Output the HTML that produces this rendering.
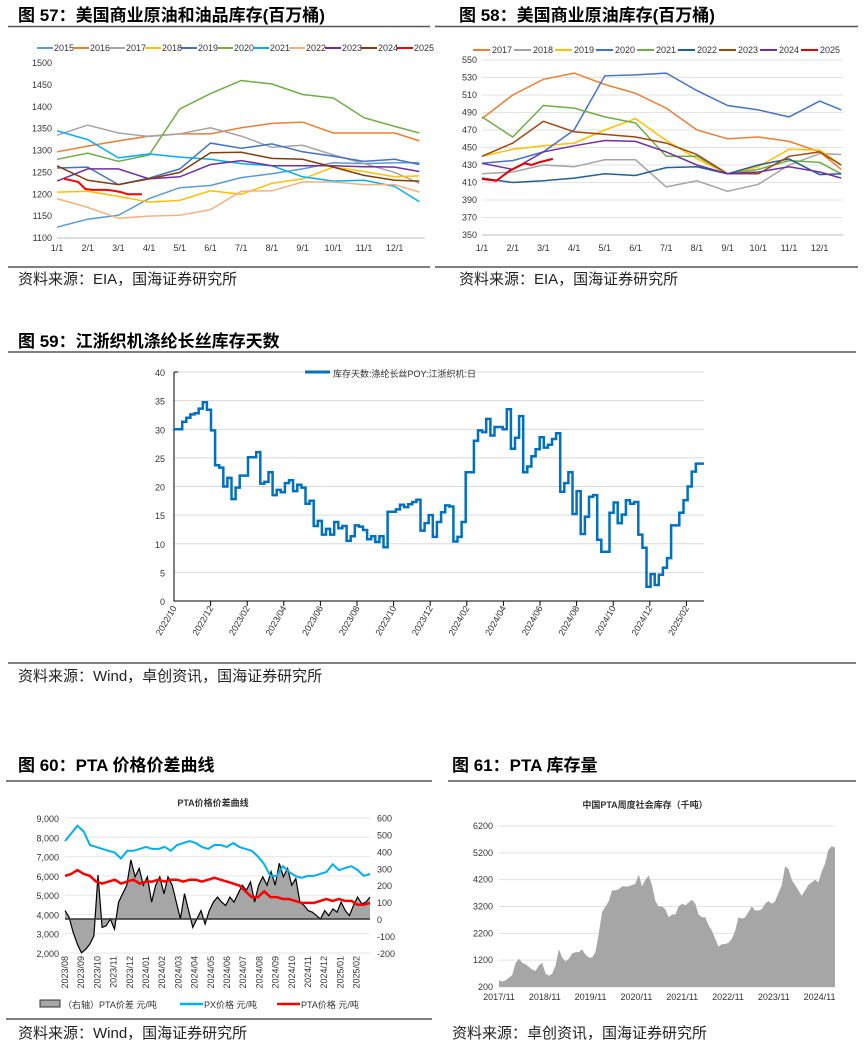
<!DOCTYPE html>
<html><head><meta charset="utf-8"><style>
html,body{margin:0;padding:0;background:#fff}
svg{display:block}
text{font-family:"Liberation Sans","Noto Sans CJK SC",sans-serif}
.t{font-size:17px;font-weight:bold;fill:#000}
.s{font-size:15px;fill:#222}
.k{font-size:9px;fill:#333}
</style></head><body>
<svg id="svg" width="865" height="1049" viewBox="0 0 865 1049" xmlns="http://www.w3.org/2000/svg">
<text class="t" x="18" y="21">图 57：美国商业原油和油品库存(百万桶)</text>
<line x1="8" y1="26.5" x2="430" y2="26.5" stroke="#555" stroke-width="1.5"/>
<text class="t" x="459" y="21">图 58：美国商业原油库存(百万桶)</text>
<line x1="435" y1="26.5" x2="858" y2="26.5" stroke="#555" stroke-width="1.5"/>
<line x1="8" y1="267" x2="430" y2="267" stroke="#555" stroke-width="1.5"/>
<text class="s" x="18" y="284">资料来源：EIA，国海证券研究所</text>
<line x1="435" y1="267" x2="858" y2="267" stroke="#555" stroke-width="1.5"/>
<text class="s" x="459" y="284">资料来源：EIA，国海证券研究所</text>

<text class="t" x="18" y="347">图 59：江浙织机涤纶长丝库存天数</text>
<line x1="8" y1="352" x2="856" y2="352" stroke="#555" stroke-width="1.5"/>
<line x1="8" y1="663" x2="856" y2="663" stroke="#555" stroke-width="1.5"/>
<text class="s" x="18" y="681">资料来源：Wind，卓创资讯，国海证券研究所</text>

<text class="t" x="18" y="771">图 60：PTA 价格价差曲线</text>
<line x1="6" y1="781" x2="432" y2="781" stroke="#555" stroke-width="1.5"/>
<line x1="6" y1="1019" x2="432" y2="1019" stroke="#555" stroke-width="1.5"/>
<text class="s" x="18" y="1038">资料来源：Wind，国海证券研究所</text>

<text class="t" x="452" y="771">图 61：PTA 库存量</text>
<line x1="448" y1="781" x2="856" y2="781" stroke="#555" stroke-width="1.5"/>
<text class="s" x="452" y="1038">资料来源：卓创资讯，国海证券研究所</text>
</svg>
<script>
// ---- Fig 57 data ----
const f57Years=["2015","2016","2017","2018","2019","2020","2021","2022","2023","2024"];
const f57Colors=["#5B9BD5","#ED7D31","#A5A5A5","#FFC000","#4472C4","#70AD47","#00B0F0","#F4B183","#7030A0","#843C0C"];
const f57s2015=[1125,1143,1152,1190,1215,1220,1238,1247,1258,1272,1270,1272,1272];
const f57s2016=[1297,1310,1322,1333,1338,1338,1352,1362,1365,1340,1340,1340,1322];
const f57s2017=[1335,1358,1340,1332,1338,1352,1333,1307,1312,1290,1270,1250,1225];
const f57s2018=[1205,1207,1195,1182,1186,1208,1200,1225,1235,1262,1252,1240,1242];
const f57s2019=[1260,1262,1222,1237,1258,1317,1305,1315,1297,1287,1275,1280,1268];
const f57s2020=[1280,1294,1275,1290,1395,1430,1460,1452,1428,1420,1375,1355,1340];
const f57s2021=[1345,1325,1283,1292,1285,1280,1270,1265,1240,1230,1232,1218,1183];
const f57s2022=[1190,1170,1145,1150,1152,1165,1207,1208,1228,1228,1222,1222,1205];
const f57s2023=[1230,1258,1258,1235,1240,1268,1277,1265,1265,1265,1263,1262,1252];
const f57s2024=[1265,1232,1222,1235,1250,1295,1296,1282,1280,1262,1243,1232,1230];
const f57s2025=[1235,1232,1228,1212,1210,1210,1210,1208,1205,1200,1200,1200];
const f57Ticks=[1100,1150,1200,1250,1300,1350,1400,1450,1500];
const months=["1/1","2/1","3/1","4/1","5/1","6/1","7/1","8/1","9/1","10/1","11/1","12/1"];
// ---- Fig 58 data ----
const f58Years=["2017","2018","2019","2020","2021","2022","2023","2024"];
const f58Colors=["#ED7D31","#A5A5A5","#FFC000","#4472C4","#70AD47","#255E91","#9E480E","#7030A0"];
const f58s2017=[483,510,528,535,522,512,495,470,460,462,457,445,425];
const f58s2018=[420,422,430,428,436,436,405,412,400,408,430,443,442];
const f58s2019=[440,448,452,455,470,483,458,437,420,428,448,447,430];
const f58s2020=[432,435,445,470,532,533,535,515,498,493,485,503,493];
const f58s2021=[485,462,498,495,485,478,440,440,420,425,435,433,420];
const f58s2022=[415,410,412,415,420,418,427,428,420,430,437,419,420];
const f58s2023=[440,455,480,468,465,462,455,442,420,420,440,445,430];
const f58s2024=[432,425,445,452,458,457,445,430,420,422,428,422,415];
const f58s2025=[414,413,412,418,424,428,432,430,433,435,437];
const f58Ticks=[350,370,390,410,430,450,470,490,510,530,550];
// ---- Fig 59 data ----
const f59Values=[30,30,31.3,32,32.6,32.8,33.6,34.7,33.4,29.8,23.7,23.3,20,21.5,17.8,19.8,21.9,21.9,25.1,25.1,26,20.5,20.8,22.5,18.5,19.4,19,20.6,21.1,19.2,20.3,19.8,17,17.5,13.1,14,11.6,12.6,11.6,13.8,12.7,13.1,10.5,11.3,13.2,13,12.4,10.8,11.3,10.3,11.3,9.4,15.6,15.6,16,16.8,16.4,16.9,17.3,17.7,12.3,13.6,15,11.2,13.8,15.5,16.7,16.5,10.4,11.2,13.8,22.5,22.5,28,29.8,29.5,31.8,28.9,30.4,30.4,30,33.5,26.6,28.5,32.3,22.5,23.5,25.3,26.5,28.6,26.8,27.3,28.3,29.3,19.1,20.6,22.5,15.2,19.2,11.7,14.7,18.2,18.5,10.7,8.6,8.6,15.4,17.2,13.6,15.1,17.6,17,17.3,11.6,9.3,2.5,4.7,2.8,4.6,5.8,7.5,13.2,13.2,15.4,17.6,20,22.6,24,24];
const f59Ticks=[0,5,10,15,20,25,30,35,40];
const f59Labels=["2022/10","2022/12","2023/02","2023/04","2023/06","2023/08","2023/10","2023/12","2024/02","2024/04","2024/06","2024/08","2024/10","2024/12","2025/02"];
// ---- Fig 60 data ----
const f60PX=[7800,8200,8600,8300,7600,7500,7400,7300,7200,6900,7300,7300,7400,7500,7400,7400,7500,7300,7600,7700,7800,7700,7500,7400,7600,7600,7500,7700,7500,7400,7300,7000,6600,6000,6000,6500,6200,6000,5900,6000,6000,6100,6200,6600,6300,6400,6500,6300,6000,6100];
const f60PTA=[6000,6100,6300,6100,6000,5700,5600,5700,5800,5600,5700,5800,5600,5700,5700,5800,5700,5800,5800,5700,5800,5800,5700,5800,5900,5800,5700,5600,5500,5200,4900,4900,5200,4900,4900,4800,4800,4700,4600,4600,4600,4700,4800,4700,4800,4700,4700,4500,4500,4600];
const f60Spread=[50,10,-80,-150,-200,-180,-150,-100,260,-50,-40,0,-60,100,150,200,350,250,300,200,250,100,200,250,150,250,200,100,0,150,50,-50,0,50,-30,50,100,130,100,80,130,100,150,200,170,220,100,200,250,200,280,200,330,250,300,200,240,100,80,50,40,20,0,50,20,60,40,100,50,20,80,130,90,100,130];
const f60LeftTicks=[2000,3000,4000,5000,6000,7000,8000,9000];
const f60RightTicks=[-200,-100,0,100,200,300,400,500,600];
const f60Labels=["2023/08","2023/09","2023/10","2023/11","2023/12","2024/01","2024/02","2024/03","2024/04","2024/05","2024/06","2024/07","2024/08","2024/09","2024/10","2024/11","2024/12","2025/01","2025/02"];
// ---- Fig 61 data ----
const f61Values=[450,400,450,550,650,1100,1250,1100,1050,950,850,800,1000,1100,700,620,700,1000,1600,1300,1150,1250,1450,1500,1500,1600,1400,1300,1300,1500,2200,3000,3200,3400,3800,3800,3850,3950,3950,3950,4000,4050,4400,3950,4200,4350,4000,3400,3200,3200,3100,2800,2900,2900,3200,3300,3250,3350,3450,3300,2900,2800,2800,2500,2300,2000,1700,1800,1800,1850,2000,2300,2800,2750,2800,3000,3200,3050,3050,3100,3300,3400,3300,3400,3700,4000,4700,4600,4200,4000,3800,3600,3800,4000,4100,4200,4100,4500,4800,5300,5450,5400];
const f61Ticks=[200,1200,2200,3200,4200,5200,6200];
const f61Labels=["2017/11","2018/11","2019/11","2020/11","2021/11","2022/11","2023/11","2024/11"];

const svg=document.getElementById('svg');
const NS="http://www.w3.org/2000/svg";
function mk(tag,attrs,txt){const e=document.createElementNS(NS,tag);for(const k in attrs)e.setAttribute(k,attrs[k]);if(txt!==undefined)e.textContent=txt;svg.appendChild(e);return e;}
function pts(arr,fx,fy){return arr.map((v,i)=>fx(i).toFixed(1)+","+fy(v).toFixed(1)).join(" ");}

// ===== Fig 57 =====
(function(){
  const x=m=>57+m*30.7, y=v=>238-(v-1100)/400*175;
  let e=mk('line',{x1:57,y1:238,x2:425,y2:238,stroke:'#bbb'});
  
  
  f57Ticks.forEach(t=>{e=mk('text',{x:52,y:y(t)+3,'text-anchor':'end',class:'k'},t);
    
    });
  months.forEach((m,i)=>{e=mk('text',{x:x(i),y:251,'text-anchor':'middle',class:'k'},m);
    
    });
  const all=[f57s2015,f57s2016,f57s2017,f57s2018,f57s2019,f57s2020,f57s2021,f57s2022,f57s2023,f57s2024];
  all.forEach((s,k)=>{const n=s.length;e=mk('polyline',{points:pts(s,i=>x(i<n-1?i:11.8),y),fill:'none',stroke:f57Colors[k],'stroke-width':1.5});
    
    });
  e=mk('polyline',{points:pts(f57s2025,i=>x((i+1)*12/52),y),fill:'none',stroke:'#FF0000','stroke-width':2});
  
  
  const names=f57Years.concat(["2025"]),cols=f57Colors.concat(["#FF0000"]);
  names.forEach((nm,i)=>{const lx=37+i*36;
    e=mk('line',{x1:lx,y1:48,x2:lx+16,y2:48,stroke:cols[i],'stroke-width':2});
    
    
    e=mk('text',{x:lx+17,y:51,class:'k','font-size':8},nm);
    
    });
})();

// ===== Fig 58 =====
(function(){
  const x=m=>482+m*30.7, y=v=>235-(v-350)/200*175;
  let e;
  f58Ticks.forEach(t=>{e=mk('line',{x1:482,y1:y(t),x2:843,y2:y(t),stroke:t===350?'#bbb':'#e2e2e2'});
    
    
    e=mk('text',{x:477,y:y(t)+3,'text-anchor':'end',class:'k'},t);
    
    });
  months.forEach((m,i)=>{e=mk('text',{x:x(i),y:251,'text-anchor':'middle',class:'k'},m);
    
    });
  const all=[f58s2017,f58s2018,f58s2019,f58s2020,f58s2021,f58s2022,f58s2023,f58s2024];
  all.forEach((s,k)=>{const n=s.length;e=mk('polyline',{points:pts(s,i=>x(i<n-1?i:11.7),y),fill:'none',stroke:f58Colors[k],'stroke-width':1.5});
    
    });
  e=mk('polyline',{points:pts(f58s2025,i=>x(i*12/52),y),fill:'none',stroke:'#E00000','stroke-width':2});
  
  
  const names=f58Years.concat(["2025"]),cols=f58Colors.concat(["#E00000"]);
  names.forEach((nm,i)=>{const lx=473+i*41;
    e=mk('line',{x1:lx,y1:50,x2:lx+17,y2:50,stroke:cols[i],'stroke-width':2});
    
    
    e=mk('text',{x:lx+19,y:53,class:'k','font-size':8},nm);
    
    });
})();

// ===== Fig 59 =====
(function(){
  const X0=174,X1=704,n=f59Values.length;
  const x=i=>X0+i*(X1-X0)/n, y=v=>601-v*5.725;
  let e;
  f59Ticks.forEach(t=>{if(t>0){e=mk('line',{x1:X0,y1:y(t),x2:X1,y2:y(t),stroke:'#d9d9d9'});
    
    }
    e=mk('text',{x:165,y:y(t)+4,'text-anchor':'end',class:'k','font-size':11},t);
    
    });
  e=mk('path',{d:`M${X0},372V601H${X1}M${X0},372h4`,stroke:'#000',fill:'none'});
  
  
  const sp=36.6;
  f59Labels.forEach((l,i)=>{const tx=X0+i*sp;
    if(i>0){e=mk('line',{x1:tx,y1:601,x2:tx,y2:606,stroke:'#000'});
      
      }
    e=mk('text',{x:tx+3,y:608,'text-anchor':'end',class:'k','font-size':11,transform:`rotate(-60 ${tx+3} 608)`},l);
    
    });
  let d=`M${x(0)},${y(f59Values[0])}`;
  f59Values.forEach((v,i)=>{d+=`V${y(v).toFixed(1)}H${x(i+1).toFixed(1)}`;});
  e=mk('path',{d:d,fill:'none',stroke:'#0070C0','stroke-width':2.5});
  
  
  e=mk('line',{x1:305,y1:372,x2:330,y2:372,stroke:'#0070C0','stroke-width':3});
  
  
  e=mk('text',{x:333,y:377,class:'k','font-size':13},'库存天数:涤纶长丝POY:江浙织机:日');
  
  
})();

// ===== Fig 60 =====
(function(){
  const X0=65,X1=370;
  const yL=v=>953-(v-2000)/7000*135, yR=v=>919-v*0.1688;
  let e;
  f60LeftTicks.forEach(t=>{e=mk('line',{x1:X0,y1:yL(t),x2:X1,y2:yL(t),stroke:'#e6e6e6'});
    
    
    e=mk('text',{x:59,y:yL(t)+4,'text-anchor':'end',class:'k','font-size':11},t.toLocaleString('en-US'));
    
    });
  f60RightTicks.forEach(t=>{e=mk('text',{x:377,y:yR(t)+4,class:'k','font-size':11},t);
    
    });
  f60Labels.forEach((l,i)=>{const tx=X0+i*16.2+3;
    e=mk('text',{x:tx,y:956,'text-anchor':'end',class:'k','font-size':9,transform:`rotate(-90 ${tx} 956)`},l);
    
    });
  const ns=f60Spread.length, xs=i=>X0+i*(X1-X0)/(ns-1);
  const sp=pts(f60Spread,xs,yR);
  e=mk('polygon',{points:`${X0},${yR(0)} ${sp} ${X1},${yR(0)}`,fill:'#A6A6A6',stroke:'none'});
  
  
  e=mk('polyline',{points:sp,fill:'none',stroke:'#000','stroke-width':1.2});
  
  
  e=mk('line',{x1:X0,y1:yR(0),x2:X1,y2:yR(0),stroke:'#333','stroke-width':1.5});
  
  
  const np=f60PX.length, xp=i=>X0+i*(X1-X0)/(np-1);
  e=mk('polyline',{points:pts(f60PX,xp,yL),fill:'none',stroke:'#00B0F0','stroke-width':2});
  
  
  e=mk('polyline',{points:pts(f60PTA,xp,yL),fill:'none',stroke:'#FF0000','stroke-width':2.5});
  
  
  e=mk('text',{x:213,y:806,'text-anchor':'middle',class:'k','font-size':10,'font-weight':'bold'},'PTA价格价差曲线');
  
  
  e=mk('rect',{x:40,y:1000,width:20,height:7,fill:'#A6A6A6',stroke:'#333'});
  
  
  e=mk('text',{x:63,y:1008,class:'k','font-size':8},'（右轴）PTA价差  元/吨');
  
  
  e=mk('line',{x1:180,y1:1004,x2:203,y2:1004,stroke:'#00B0F0','stroke-width':2.5});
  
  
  e=mk('text',{x:204,y:1008,class:'k','font-size':8},'PX价格  元/吨');
  
  
  e=mk('line',{x1:277,y1:1004,x2:300,y2:1004,stroke:'#FF0000','stroke-width':2.5});
  
  
  e=mk('text',{x:301,y:1008,class:'k','font-size':8},'PTA价格  元/吨');
  
  
})();

// ===== Fig 61 =====
(function(){
  const X0=499,X1=835, y=v=>987-(v-200)/6000*161;
  let e;
  f61Ticks.forEach(t=>{e=mk('line',{x1:X0,y1:y(t),x2:X1,y2:y(t),stroke:'#e0e0e0'});
    
    
    e=mk('text',{x:493,y:y(t)+3,'text-anchor':'end',class:'k'},t);
    
    });
  f61Labels.forEach((l,i)=>{e=mk('text',{x:X0+i*45.8,y:1000,'text-anchor':'middle',class:'k','font-size':8},l);
    
    });
  const n=f61Values.length, x=i=>X0+i*(X1-X0)/(n-1);
  e=mk('polygon',{points:`${X0},${y(200)} ${pts(f61Values,x,y)} ${X1},${y(200)}`,fill:'#A6A6A6'});
  
  
  e=mk('text',{x:645,y:808,'text-anchor':'middle',class:'k','font-size':9,'font-weight':'bold'},'中国PTA周度社会库存（千吨）');
  
  
})();
</script>
</body></html>
